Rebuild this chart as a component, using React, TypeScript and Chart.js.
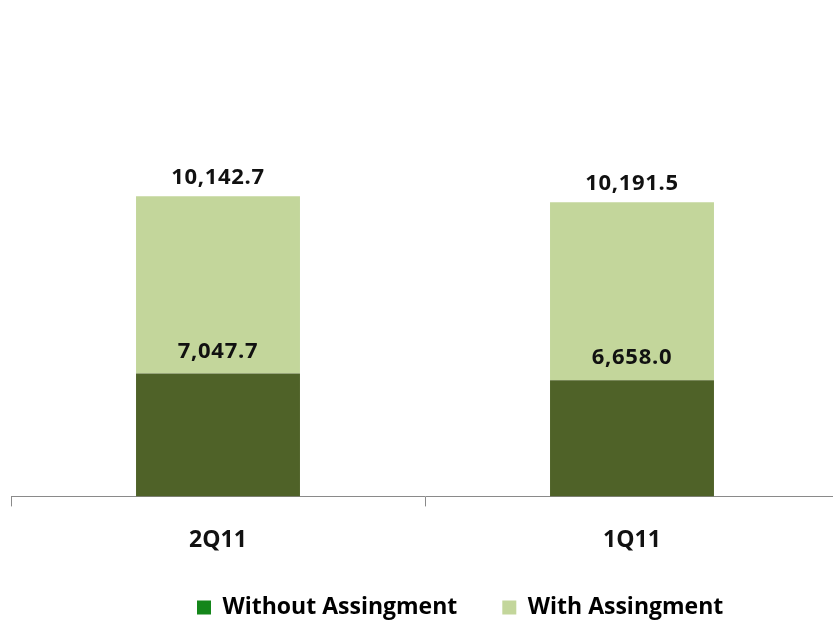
import React, { useEffect, useRef } from "react";
import { Chart, registerables } from "chart.js";

Chart.register(...registerables);

const categories = ["2Q11", "1Q11"];
const withoutAssignment = [7047.7, 6658.0];
const withAssignment = [10142.7, 10191.5];
const seriesNames = ["Without Assingment", "With Assingment"];

const fmt = (v: number) =>
  v.toLocaleString("en-US", { minimumFractionDigits: 1, maximumFractionDigits: 1 });

const FONT = "'Open Sans', 'DejaVu Sans', sans-serif";
const LEGEND_PAD = 45;

export default function App() {
  const ref = useRef<HTMLCanvasElement | null>(null);

  useEffect(() => {
    if (!ref.current) return;
    const labelPlugin = {
      id: "valueLabels",
      afterDatasetsDraw(chart: any) {
        const ctx = chart.ctx;
        ctx.save();
        ctx.font = `bold 22px ${FONT}`;
        try { (ctx as any).letterSpacing = "0.7px"; } catch (e) {}
        ctx.fillStyle = "#111";
        ctx.textAlign = "center";
        ctx.textBaseline = "middle";
        chart.data.datasets.forEach((ds: any, di: number) => {
          const meta = chart.getDatasetMeta(di);
          meta.data.forEach((el: any, i: number) => {
            const off = di === 0 ? 22 : 19;
            ctx.fillText(fmt(ds.data[i]), el.x, el.y - off);
          });
        });
        ctx.restore();
      },
    };
    const legendShift = {
      id: "legendShift",
      afterLayout(chart: any) {
        const lg = chart.legend;
        if (!lg || !lg.lineWidths) return;
        const start = (lg.left + LEGEND_PAD + lg.right - lg.lineWidths[0]) / 2;
        const dx = 197 - start;
        lg.left += dx;
        lg.right += dx;
        lg.top -= 23;
        lg.bottom -= 23;
      },
    };

    const chart = new Chart(ref.current, {
      type: "bar",
      data: {
        labels: categories,
        datasets: [
          {
            label: seriesNames[0],
            data: withoutAssignment,
            backgroundColor: "#4f6228",
            barPercentage: 0.396,
            categoryPercentage: 1,
          },
          {
            label: seriesNames[1],
            data: withAssignment,
            backgroundColor: "#c3d69b",
            barPercentage: 0.396,
            categoryPercentage: 1,
          },
        ],
      },
      options: {
        animation: false,
        responsive: false,
        maintainAspectRatio: false,
        layout: { padding: { top: 60, left: 11, right: 11, bottom: 0 } },
        plugins: {
          tooltip: { enabled: false },
          legend: {
            position: "bottom",
            labels: {
              boxWidth: 14,
              boxHeight: 14,
              padding: LEGEND_PAD,
              color: "#111",
              font: { family: FONT, size: 23, weight: "bold" },
              generateLabels: () => [
                { text: seriesNames[0], fillStyle: "#14861a", strokeStyle: "#14861a", lineWidth: 0, datasetIndex: 0 },
                { text: seriesNames[1], fillStyle: "#c3d69b", strokeStyle: "#c3d69b", lineWidth: 0, datasetIndex: 1 },
              ],
            },
          },
        },
        scales: {
          x: {
            stacked: true,
            offset: true,
            grid: {
              offset: true,
              drawOnChartArea: false,
              drawTicks: true,
              tickLength: 10,
              color: "#8a8a8a",
            },
            border: { display: true, color: "#8a8a8a", width: 1 },
            ticks: {
              color: "#111",
              padding: 20,
              font: { family: FONT, size: 23, weight: "bold" },
            },
          },
          y: {
            stacked: true,
            display: false,
            min: 0,
            max: 25000,
          },
        },
      },
      plugins: [labelPlugin, legendShift],
    });
    return () => chart.destroy();
  }, []);

  return (
    <div style={{ position: "fixed", left: 0, top: 0, width: 850, height: 620, overflow: "hidden", background: "#fff" }}>
      <canvas ref={ref} width={850} height={652} />
    </div>
  );
}
